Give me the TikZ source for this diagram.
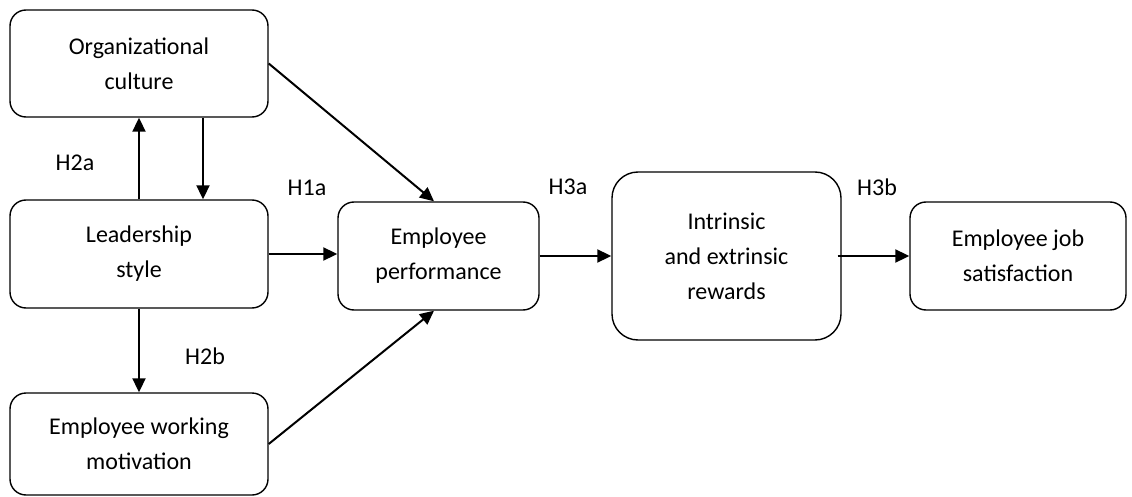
\documentclass[tikz,border=0pt]{standalone}
\usepackage{fontspec}
\setmainfont{Carlito}
\usetikzlibrary{arrows.meta}
\begin{document}
\begin{tikzpicture}[x=1pt,y=-1pt,
  box/.style={draw=black,line width=1.4pt,rounded corners=16pt,align=center,inner sep=0pt,
    font=\fontsize{24}{35}\selectfont},
  lbl/.style={font=\fontsize{24}{28}\selectfont,inner sep=0pt},
  arr/.style={line width=2pt,-{Triangle[length=14pt,width=13pt]}}]
\useasboundingbox (0,0) rectangle (1132,497);
\node[box,minimum width=258pt,minimum height=107pt] (org) at (139,63.5) {Organizational\\culture};
\node[box,minimum width=258pt,minimum height=108pt] (lead) at (139,254) {Leadership\\style};
\node[box,minimum width=258pt,minimum height=102pt] (mot) at (139,444) {Employee working\\motivation};
\node[box,minimum width=201pt,minimum height=108pt] (perf) at (438.5,256) {Employee\\performance};
\node[box,rounded corners=26pt,minimum width=229pt,minimum height=168pt] (rew) at (726.5,256) {Intrinsic\\and extrinsic\\rewards};
\node[box,minimum width=216pt,minimum height=108pt] (sat) at (1018,256) {Employee job\\satisfaction};
\node[lbl] (h2a) at (75,163) {H2a};
\node[lbl] (h1a) at (307,188) {H1a};
\node[lbl] (h3a) at (568,187) {H3a};
\node[lbl] (h3b) at (877,187) {H3b};
\node[lbl] (h2b) at (205,356) {H2b};
\draw[arr] (lead.north) -- (org.south);
\draw[arr] ([xshift=64pt]org.south) -- ([xshift=64pt]lead.north);
\draw[arr] (lead.south) -- (mot.north);
\draw[arr] (org.east) -- ([xshift=-4.5pt]perf.north);
\draw[arr] (lead.east) -- (perf.west |- lead.east);
\draw[arr] (mot.east) -- ([xshift=-4.5pt]perf.south);
\draw[arr] (perf.east) -- (rew.west);
\draw[arr] ([xshift=-4pt]rew.east) -- (sat.west);
\end{tikzpicture}
\end{document}
